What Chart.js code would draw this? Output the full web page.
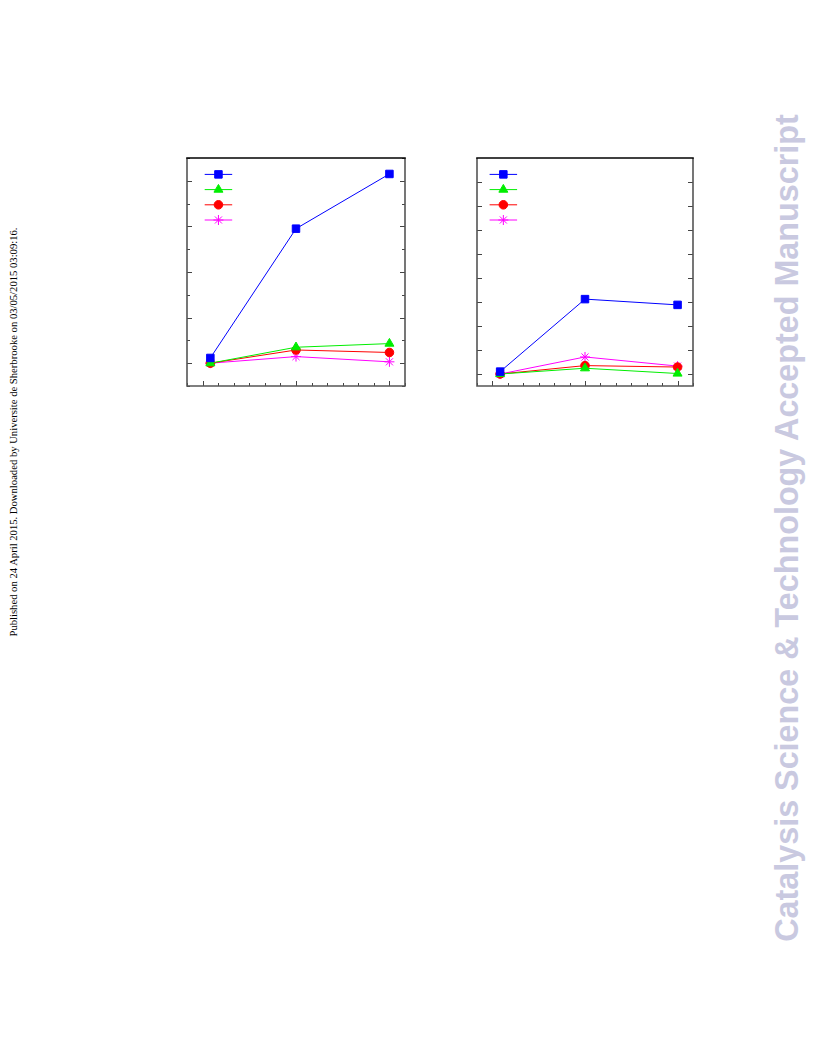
<!DOCTYPE html>
<html>
<head>
<meta charset="utf-8">
<script src="https://cdn.jsdelivr.net/npm/chart.js@4/dist/chart.umd.min.js"></script>
<style>
  html, body { margin:0; padding:0; background:#fff; }
  body { width:816px; height:1056px; position:relative; overflow:hidden; }
  .box { position:absolute; }
  .side-left { position:absolute; left:13px; top:432px; transform:translate(-50%,-50%) rotate(-90deg);
    font-family:"Liberation Serif","DejaVu Serif",serif; font-size:10.65px; color:#000; white-space:nowrap; }
  .side-right { position:absolute; left:787px; top:528px; transform:translate(-50%,-50%) rotate(-90deg);
    font-family:"Liberation Sans",Arial,sans-serif; font-weight:bold; font-size:32.3px; color:#c9c9e0; white-space:nowrap; }
</style>
</head>
<body>
<div class="side-left">Published on 24 April 2015. Downloaded by Universite de Sherbrooke on 03/05/2015 03:09:16.</div>
<div class="side-right">Catalysis Science &amp; Technology Accepted Manuscript</div>
<div class="box" id="b1" style="left:175px;top:146px;width:242px;height:252px;"><canvas id="c1"></canvas></div>
<div class="box" id="b2" style="left:465px;top:146px;width:240px;height:252px;"><canvas id="c2"></canvas></div>
<script>
// ---- data ----
const xValues = [1, 12, 24];
const seriesNames = ["S1", "S2", "S3", "S4"];

const left_blue    = [2.3, 59, 83];
const left_green   = [0, 7.0, 8.6];
const left_red     = [0, 5.8, 4.7];
const left_magenta = [0, 2.9, 0.6];

const right_blue    = [1.0, 31.2, 28.8];
const right_green   = [0, 2.4, 0.2];
const right_red     = [0, 3.5, 2.9];
const right_magenta = [0, 7.1, 3.3];

const xMajorTicks = [0, 12, 24];
const xMinorTicks = [-2, 2, 4, 6, 8, 10, 14, 16, 18, 20, 22, 26];
const left_yMajorTicks = [0, 20, 40, 60, 80];
const left_yMinorTicks = [-10, 10, 30, 50, 70, 90];
const right_yMajorTicks = [0, 10, 20, 30, 40, 50, 60, 70, 80];
const right_yMinorTicks = [];

// ---- styles ----
const styles = [
  { color: '#0000ff', pointStyle: 'rect', radius: 5.3 },
  { color: '#00ee00', pointStyle: 'triangle', radius: 5.2 },
  { color: '#ff0000', pointStyle: 'circle', radius: 4.3 },
  { color: '#ff00ff', pointStyle: 'star', radius: 5 }
];

function makeDatasets(arrs) {
  return arrs.map((vals, i) => ({
    label: seriesNames[i],
    data: xValues.map((x, k) => ({ x: x, y: vals[k] })),
    borderColor: styles[i].color,
    backgroundColor: styles[i].color,
    pointBackgroundColor: styles[i].color,
    pointBorderColor: styles[i].color,
    pointStyle: styles[i].pointStyle,
    pointRadius: styles[i].radius,
    pointBorderWidth: 1,
    borderWidth: 1,
    tension: 0,
    clip: false
  }));
}

const framePlugin = {
  id: 'frame',
  beforeDatasetsDraw(chart, args, opts) {
    const ctx = chart.ctx, a = chart.chartArea;
    const xs = chart.scales.x, ys = chart.scales.y;
    ctx.save();
    ctx.strokeStyle = '#444';
    ctx.lineWidth = 1;
    const drawX = (vals, len) => vals.forEach(v => {
      const px = Math.round(xs.getPixelForValue(v)) + 0.5;
      ctx.beginPath(); ctx.moveTo(px, a.bottom); ctx.lineTo(px, a.bottom - len); ctx.stroke();
    });
    const drawY = (vals, len) => vals.forEach(v => {
      const py = Math.round(ys.getPixelForValue(v)) + 0.5;
      ctx.beginPath(); ctx.moveTo(a.left, py); ctx.lineTo(a.left + len, py); ctx.stroke();
      ctx.beginPath(); ctx.moveTo(a.right, py); ctx.lineTo(a.right - len, py); ctx.stroke();
    });
    drawX(opts.xMajor, 5); drawX(opts.xMinor, 3);
    drawY(opts.yMajor, 5); drawY(opts.yMinor, 3);
    ctx.lineWidth = 1.6;
    ctx.strokeStyle = '#555';
    ctx.beginPath();
    ctx.moveTo(a.left, a.top); ctx.lineTo(a.left, a.bottom); ctx.lineTo(a.right, a.bottom); ctx.lineTo(a.right, a.top);
    ctx.stroke();
    ctx.strokeStyle = '#000';
    ctx.beginPath(); ctx.moveTo(a.left - 0.8, a.top); ctx.lineTo(a.right + 0.8, a.top); ctx.stroke();
    ctx.restore();
  },
  afterDatasetsDraw(chart, args, opts) {
    const ctx = chart.ctx, a = chart.chartArea;
    ctx.save();
    chart.data.datasets.forEach((ds, i) => {
      const y = a.top + opts.legTop + i * opts.legGap;
      const x0 = a.left + opts.legLeft, x1 = x0 + opts.legLen;
      ctx.strokeStyle = ds.borderColor; ctx.lineWidth = 1;
      ctx.beginPath(); ctx.moveTo(x0, y); ctx.lineTo(x1, y); ctx.stroke();
      ctx.fillStyle = ds.pointBackgroundColor; ctx.strokeStyle = ds.pointBorderColor;
      Chart.helpers.drawPoint(ctx, { pointStyle: ds.pointStyle, radius: ds.pointRadius, borderWidth: 1, rotation: 0 }, (x0 + x1) / 2, y);
    });
    ctx.restore();
  }
};

function makeChart(id, arrs, yMin, yMax, yMajor, yMinor, legLeft) {
  return new Chart(document.getElementById(id), {
    type: 'line',
    data: { datasets: makeDatasets(arrs) },
    options: {
      responsive: true,
      maintainAspectRatio: false,
      animation: false,
      layout: { padding: 12 },
      scales: {
        x: { type: 'linear', min: -2, max: 26, display: false },
        y: { type: 'linear', min: yMin, max: yMax, display: false }
      },
      plugins: {
        legend: { display: false },
        tooltip: { enabled: false },
        frame: { xMajor: xMajorTicks, xMinor: xMinorTicks, yMajor: yMajor, yMinor: yMinor,
                 legLeft: legLeft, legLen: 27.5, legTop: 16.4, legGap: 15.2 }
      }
    },
    plugins: [framePlugin]
  });
}

makeChart('c1', [left_blue, left_green, left_red, left_magenta], -10, 90, left_yMajorTicks, left_yMinorTicks, 17.7);
makeChart('c2', [right_blue, right_green, right_red, right_magenta], -5, 90, right_yMajorTicks, right_yMinorTicks, 12.6);
</script>
</body>
</html>
